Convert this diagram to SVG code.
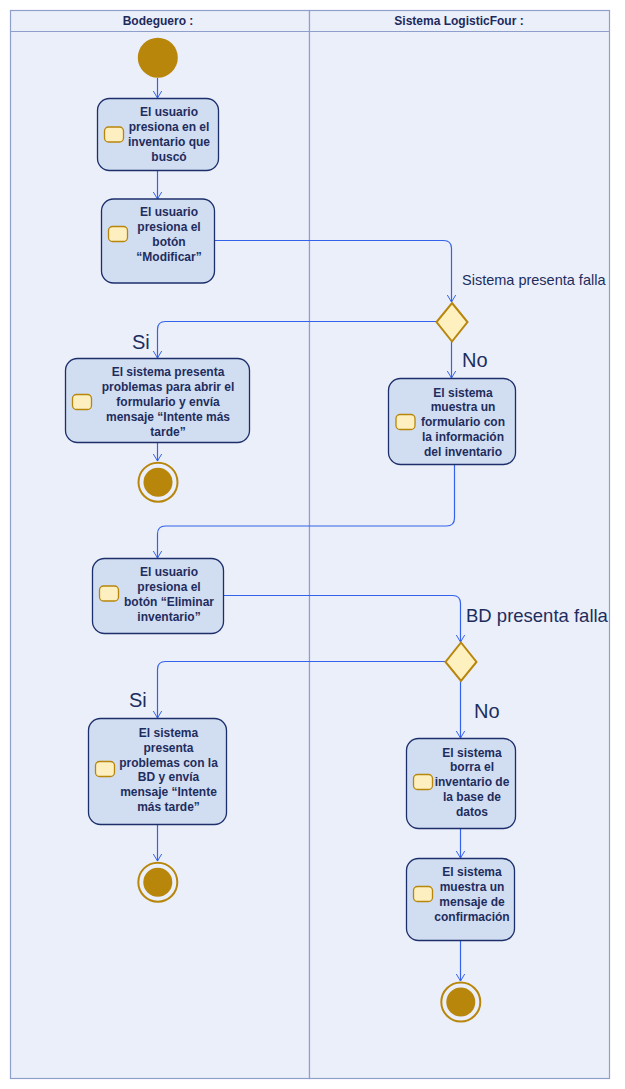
<svg xmlns="http://www.w3.org/2000/svg" width="625" height="1089" viewBox="0 0 625 1089">
<style>
.lane{fill:#ebeffa;stroke:#8e9fcc;stroke-width:1.2}
.hdr{font-family:"Liberation Sans",Arial,sans-serif;font-size:12px;font-weight:bold;fill:#1c2a5c;text-anchor:middle}
.act{fill:#d1ddf1;stroke:#1c2f6b;stroke-width:1.3}
.ico{fill:#fdefc0;stroke:#b8860b;stroke-width:1.3}
.t{font-family:"Liberation Sans",Arial,sans-serif;font-size:12px;font-weight:bold;fill:#1f2d5e;text-anchor:middle}
.lbl{font-family:"Liberation Sans",Arial,sans-serif;fill:#1c2d5e}
.con{fill:none;stroke:#3462ea;stroke-width:1.2;marker-end:url(#arr)}
.dia{fill:#fff0c0;stroke:#b8860b;stroke-width:2}
.init{fill:#b8860b}
.fin{fill:none;stroke:#b8860b;stroke-width:2}
</style>
<defs>
<marker id="arr" markerUnits="userSpaceOnUse" viewBox="0 0 8 10" refX="7.5" refY="5" markerWidth="8" markerHeight="10" orient="auto">
<path d="M0,0.5 L7.5,5 L0,9.5" fill="none" stroke="#3462ea" stroke-width="1"/>
</marker>
</defs>
<rect width="625" height="1089" fill="#ffffff"/>
<g id="lanes">
<rect class="lane" x="10.5" y="10.5" width="299" height="1068"/>
<rect class="lane" x="309.5" y="10.5" width="300" height="1068"/>
<line x1="10.5" y1="31.5" x2="609.5" y2="31.5" stroke="#8e9fcc" stroke-width="1.2"/>
<text class="hdr" x="158" y="25">Bodeguero :</text>
<text class="hdr" x="459" y="25">Sistema LogisticFour :</text>
</g>
<g id="connectors">
<path class="con" d="M157.5,78 V98"/>
<path class="con" d="M157.5,171 V199"/>
<path class="con" d="M214,240.5 H443.5 Q451.5,240.5 451.5,248.5 V302"/>
<path class="con" d="M436,321.5 H165.5 Q157.5,321.5 157.5,329.5 V358"/>
<path class="con" d="M451.5,342 V378"/>
<path class="con" d="M157.5,442 V461"/>
<path class="con" d="M454.5,464 V518 Q454.5,526 446.5,526 H165.5 Q157.5,526 157.5,534 V558"/>
<path class="con" d="M223,595.5 H452.5 Q460.5,595.5 460.5,603.5 V642"/>
<path class="con" d="M445,661.5 H165.5 Q157.5,661.5 157.5,669.5 V718"/>
<path class="con" d="M460.5,681 V738"/>
<path class="con" d="M157.5,824 V861"/>
<path class="con" d="M460.5,828 V858"/>
<path class="con" d="M460.5,940 V981"/>
<text class="lbl" x="462" y="284.5" font-size="14.5">Sistema presenta falla</text>
<text class="lbl" x="132" y="348.5" font-size="20">Si</text>
<text class="lbl" x="462" y="366.5" font-size="20">No</text>
<text class="lbl" x="466" y="622" font-size="18.5">BD presenta falla</text>
<text class="lbl" x="129" y="707" font-size="20">Si</text>
<text class="lbl" x="474" y="718" font-size="20">No</text>
</g>
<g id="start">
<circle class="init" cx="157.8" cy="57.7" r="20"/>
</g>
<g id="a1">
<rect class="act" x="97.5" y="98.5" width="121" height="72" rx="12"/>
<rect class="ico" x="104.5" y="127" width="19" height="15" rx="4"/>
<text class="t" x="169" y="116">El usuario</text>
<text class="t" x="169" y="131">presiona en el</text>
<text class="t" x="169" y="146">inventario que</text>
<text class="t" x="169" y="161">buscó</text>
</g>
<g id="a2">
<rect class="act" x="101.5" y="199" width="113" height="84" rx="12"/>
<rect class="ico" x="108.5" y="226.5" width="19" height="15" rx="4"/>
<text class="t" x="169" y="216">El usuario</text>
<text class="t" x="169" y="231">presiona el</text>
<text class="t" x="169" y="246">botón</text>
<text class="t" x="169" y="261">“Modificar”</text>
</g>
<g id="d1">
<polygon class="dia" points="452,303 467.5,322 452,341.5 436.5,322"/>
</g>
<g id="a3">
<rect class="act" x="65.5" y="358.5" width="184" height="84" rx="12"/>
<rect class="ico" x="72.5" y="394.5" width="19" height="15" rx="4"/>
<text class="t" x="168" y="376">El sistema presenta</text>
<text class="t" x="168" y="391">problemas para abrir el</text>
<text class="t" x="168" y="406">formulario y envía</text>
<text class="t" x="168" y="421">mensaje “Intente más</text>
<text class="t" x="168" y="436">tarde”</text>
</g>
<g id="end1">
<circle class="fin" cx="158" cy="482.2" r="19.5"/>
<circle class="init" cx="158" cy="482.2" r="14.5"/>
</g>
<g id="a4">
<rect class="act" x="388.5" y="378.5" width="127" height="86" rx="12"/>
<rect class="ico" x="396" y="414.5" width="19" height="15" rx="4"/>
<text class="t" x="463" y="396.5">El sistema</text>
<text class="t" x="463" y="411">muestra un</text>
<text class="t" x="463" y="426">formulario con</text>
<text class="t" x="463" y="441">la información</text>
<text class="t" x="463" y="456">del inventario</text>
</g>
<g id="a5">
<rect class="act" x="92.5" y="558.5" width="131" height="75" rx="12"/>
<rect class="ico" x="99.5" y="586" width="19" height="15" rx="4"/>
<text class="t" x="169" y="576">El usuario</text>
<text class="t" x="169" y="591">presiona el</text>
<text class="t" x="169" y="606">botón “Eliminar</text>
<text class="t" x="169" y="621">inventario”</text>
</g>
<g id="d2">
<polygon class="dia" points="461,642.5 476.5,662 461,681 445.5,662"/>
</g>
<g id="a6">
<rect class="act" x="88.5" y="718.5" width="138" height="106" rx="12"/>
<rect class="ico" x="95.5" y="761.5" width="19" height="15" rx="4"/>
<text class="t" x="168.5" y="736.5">El sistema</text>
<text class="t" x="168.5" y="751.5">presenta</text>
<text class="t" x="168.5" y="766.5">problemas con la</text>
<text class="t" x="168.5" y="781">BD y envía</text>
<text class="t" x="168.5" y="796">mensaje “Intente</text>
<text class="t" x="168.5" y="811">más tarde”</text>
</g>
<g id="end2">
<circle class="fin" cx="157.8" cy="882.2" r="19.5"/>
<circle class="init" cx="157.8" cy="882.2" r="14.5"/>
</g>
<g id="a7">
<rect class="act" x="406.5" y="738.5" width="109" height="90" rx="12"/>
<rect class="ico" x="413.5" y="774.5" width="19" height="15" rx="4"/>
<text class="t" x="472" y="756.5">El sistema</text>
<text class="t" x="472" y="771">borra el</text>
<text class="t" x="472" y="786">inventario de</text>
<text class="t" x="472" y="801">la base de</text>
<text class="t" x="472" y="816">datos</text>
</g>
<g id="a8">
<rect class="act" x="406.5" y="858.5" width="108" height="82" rx="12"/>
<rect class="ico" x="413.5" y="886.5" width="19" height="15" rx="4"/>
<text class="t" x="472" y="876">El sistema</text>
<text class="t" x="472" y="891">muestra un</text>
<text class="t" x="472" y="906">mensaje de</text>
<text class="t" x="472" y="921">confirmación</text>
</g>
<g id="end3">
<circle class="fin" cx="460.8" cy="1002" r="19.5"/>
<circle class="init" cx="460.8" cy="1002" r="14.5"/>
</g>
</svg>
